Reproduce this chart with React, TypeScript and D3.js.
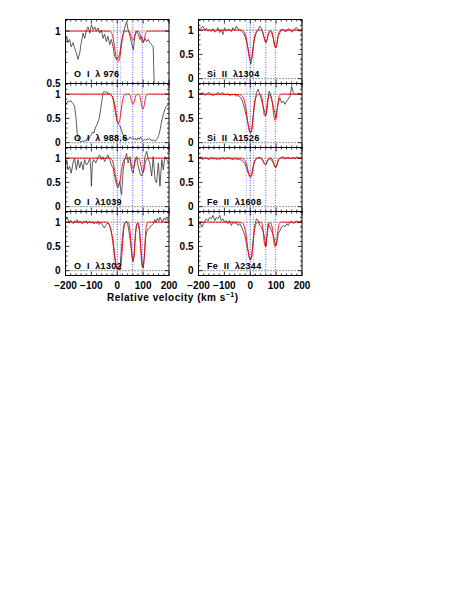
import React, { useRef, useEffect } from 'react';
import * as d3 from 'd3';

// velocity grid for the fitted profiles (km/s); the fit is 1 outside it
const modelV = [-40, -35, -30, -25, -20, -15, -10, -5, 0, 5, 10, 15, 20, 25, 30, 35, 40, 45, 50, 55,
  60, 65, 70, 75, 80, 85, 90, 95, 100, 105, 110, 115, 120, 125, 130];

// component velocities (dotted markers)
const compLight = [-15, 13];
const compDark = [0, 60, 97];

const xTickLabels = ['\u2212200', '\u2212100', '0', '100', '200'];
const xTickValues = [-200, -100, 0, 100, 200];

const labels = [
  'O  I  \u03bb 976', 'O  I  \u03bb 988.6', 'O  I  \u03bb1039', 'O  I  \u03bb1302',
  'Si  II  \u03bb1304', 'Si  II  \u03bb1526', 'Fe  II  \u03bb1608', 'Fe  II  \u03bb2344',
];

// observed normalised flux, [velocity, flux]
const oi976: [number, number][] = [
  [-200, 0.9], [-195, 0.95], [-191, 0.89], [-184, 0.92], [-178, 0.85], [-171, 0.89], [-165, 0.84],
  [-158, 0.79], [-152, 0.73], [-145, 0.79], [-139, 0.89], [-132, 0.98], [-126, 0.93], [-119, 1.01],
  [-113, 1.04], [-106, 0.98], [-100, 1.06], [-93, 1.01], [-87, 1.04], [-81, 1.0], [-74, 1.03],
  [-68, 0.98], [-61, 1.01], [-55, 0.93], [-49, 0.97], [-42, 0.9], [-36, 0.95], [-29, 0.87],
  [-23, 0.92], [-16, 0.85], [-10, 0.76], [-3, 0.73], [3, 0.74], [10, 0.79], [16, 0.89], [23, 0.98],
  [29, 1.03], [36, 1.09], [42, 1.01], [49, 0.95], [55, 0.89], [62, 0.82], [68, 0.95], [75, 1.0],
  [81, 0.97], [88, 0.92], [94, 0.95], [101, 0.89], [107, 0.93], [114, 0.9], [120, 0.92], [126, 0.89],
  [133, 0.87], [139, 0.85], [143, 0.47], [150, 0.3], [160, 0.25], [170, 0.3], [180, 0.22],
  [190, 0.28], [200, 0.25],
];
const oi988: [number, number][] = [
  [-200, 0.78], [-195, 0.82], [-190, 0.86], [-185, 0.84], [-180, 0.87], [-175, 0.83], [-170, 0.8],
  [-165, 0.75], [-160, 0.55], [-155, 0.2], [-150, 0.07], [-145, 0.03], [-140, 0.01], [-135, 0.04],
  [-130, 0.02], [-125, 0.05], [-120, 0.03], [-115, 0.1], [-110, 0.08], [-105, 0.13], [-100, 0.16],
  [-95, 0.22], [-90, 0.2], [-85, 0.3], [-80, 0.35], [-75, 0.42], [-70, 0.5], [-65, 0.65], [-60, 0.85],
  [-55, 1.02], [-50, 1.06], [-45, 1.03], [-40, 1.05], [-35, 1.0], [-30, 1.02], [-25, 0.98],
  [-20, 0.96], [-15, 0.9], [-10, 0.8], [-5, 0.62], [0, 0.45], [5, 0.38], [10, 0.35], [15, 0.28],
  [20, 0.2], [25, 0.12], [30, 0.07], [35, 0.1], [40, 0.05], [45, 0.08], [50, 0.12], [55, 0.08],
  [60, 0.1], [65, 0.06], [70, 0.09], [75, 0.05], [80, 0.1], [85, 0.07], [90, 0.12], [95, 0.06],
  [100, 0.04], [105, 0.07], [110, 0.05], [115, 0.08], [120, 0.06], [125, 0.09], [130, 0.05],
  [135, 0.04], [140, 0.06], [145, 0.03], [150, 0.05], [155, 0.08], [160, 0.15], [165, 0.25],
  [170, 0.4], [175, 0.52], [180, 0.62], [185, 0.7], [190, 0.75], [195, 0.78], [200, 0.82],
];
const oi1039: [number, number][] = [
  [-200, 0.83], [-195, 0.97], [-191, 0.76], [-184, 0.83], [-178, 0.69], [-171, 0.9], [-165, 1.0],
  [-158, 0.76], [-152, 0.97], [-145, 0.8], [-139, 0.93], [-132, 0.76], [-126, 0.97], [-119, 0.86],
  [-113, 0.9], [-106, 1.0], [-102, 0.76], [-100, 0.42], [-96, 0.9], [-91, 0.97], [-83, 0.9],
  [-74, 1.03], [-68, 1.07], [-61, 0.97], [-55, 1.03], [-49, 0.93], [-42, 1.0], [-36, 1.07],
  [-29, 0.97], [-23, 0.86], [-16, 0.8], [-10, 0.63], [-3, 0.46], [3, 0.39], [10, 0.52], [13, 0.35],
  [17, 0.25], [23, 0.76], [29, 0.97], [36, 1.1], [42, 0.9], [49, 1.03], [55, 0.76], [62, 0.69],
  [68, 0.97], [75, 1.03], [81, 0.83], [88, 0.69], [94, 0.63], [101, 0.73], [107, 1.03], [114, 1.14],
  [120, 0.97], [126, 0.9], [133, 0.63], [139, 1.03], [146, 0.56], [152, 0.49], [159, 0.9],
  [165, 0.42], [172, 0.97], [178, 0.76], [184, 1.03], [191, 0.97], [200, 0.9],
];
const oi1302: [number, number][] = [
  [-200, 1.03], [-195, 1.1], [-190, 1.05], [-185, 0.98], [-180, 1.04], [-175, 1.0], [-170, 0.97],
  [-165, 1.03], [-160, 1.0], [-155, 1.05], [-150, 0.98], [-145, 1.02], [-140, 1.0], [-135, 0.96],
  [-130, 1.02], [-125, 0.99], [-120, 1.03], [-115, 0.97], [-110, 1.0], [-105, 1.02], [-100, 0.98],
  [-95, 1.01], [-90, 0.96], [-85, 1.0], [-80, 0.97], [-75, 1.02], [-70, 0.95], [-65, 1.0],
  [-60, 0.97], [-55, 0.92], [-50, 0.88], [-45, 0.93], [-40, 0.97], [-35, 0.98], [-30, 0.93],
  [-25, 0.84], [-20, 0.72], [-15, 0.58], [-10, 0.33], [-5, 0.14], [0, 0.04], [5, 0.02], [10, 0.03],
  [15, 0.35], [20, 0.7], [25, 0.93], [30, 0.99], [35, 1.02], [40, 0.97], [45, 0.82], [50, 0.62],
  [55, 0.4], [60, 0.18], [65, 0.3], [70, 0.75], [75, 0.95], [80, 0.97], [85, 0.85], [90, 0.55],
  [95, 0.2], [100, 0.05], [105, 0.3], [110, 0.7], [115, 0.82], [120, 0.86], [125, 0.88], [130, 0.92],
  [135, 0.95], [140, 0.97], [145, 1.05], [150, 1.0], [155, 1.08], [160, 1.02], [165, 1.1],
  [170, 1.05], [175, 1.0], [180, 1.08], [185, 1.05], [190, 1.1], [195, 1.04], [200, 1.05],
];
const si1304: [number, number][] = [
  [-200, 1.01], [-190, 1.05], [-183, 1.08], [-176, 1.0], [-170, 1.04], [-163, 0.98], [-157, 1.01],
  [-150, 0.97], [-144, 1.03], [-137, 0.96], [-131, 0.98], [-125, 1.05], [-118, 0.95], [-112, 1.01],
  [-106, 0.91], [-99, 1.05], [-93, 0.98], [-86, 1.02], [-80, 1.01], [-73, 0.97], [-67, 1.05],
  [-60, 1.0], [-54, 1.08], [-47, 1.02], [-41, 1.01], [-34, 0.98], [-28, 0.95], [-21, 0.88],
  [-15, 0.78], [-8, 0.61], [-2, 0.41], [2, 0.3], [6, 0.41], [11, 0.64], [17, 0.84], [24, 0.95],
  [30, 1.01], [37, 1.08], [43, 1.04], [50, 0.91], [56, 0.81], [60, 0.74], [65, 0.81], [69, 0.91],
  [76, 0.98], [82, 0.95], [89, 0.84], [95, 0.68], [99, 0.64], [104, 0.74], [108, 0.88], [115, 0.95],
  [121, 1.02], [128, 1.01], [134, 0.97], [141, 0.98], [147, 1.03], [154, 1.01], [160, 0.96],
  [167, 0.98], [173, 1.04], [180, 1.05], [186, 0.99], [193, 0.98], [200, 1.01],
];
const si1526: [number, number][] = [
  [-200, 0.99], [-190, 1.02], [-183, 1.03], [-176, 0.98], [-170, 0.99], [-163, 1.03], [-157, 1.02],
  [-150, 0.99], [-144, 0.97], [-137, 1.0], [-131, 0.99], [-125, 1.04], [-118, 0.99], [-112, 1.02],
  [-106, 1.03], [-99, 1.0], [-93, 0.99], [-86, 1.01], [-80, 0.97], [-73, 0.99], [-67, 0.99],
  [-60, 1.0], [-54, 0.96], [-47, 0.97], [-41, 0.95], [-34, 0.9], [-28, 0.82], [-21, 0.68],
  [-15, 0.55], [-8, 0.38], [-2, 0.24], [2, 0.21], [6, 0.27], [11, 0.55], [17, 0.82], [24, 1.03],
  [30, 1.1], [37, 1.0], [43, 0.89], [50, 0.75], [56, 0.62], [60, 0.55], [65, 0.68], [69, 0.88],
  [73, 1.06], [76, 1.03], [82, 0.89], [89, 0.75], [95, 0.62], [99, 0.51], [104, 0.68], [108, 0.82],
  [115, 0.92], [121, 0.82], [128, 0.86], [134, 0.79], [141, 0.86], [147, 0.9], [154, 0.96],
  [160, 1.16], [167, 1.03], [173, 0.99], [180, 1.0], [186, 1.02], [193, 1.0], [200, 0.99],
];
const fe1608: [number, number][] = [
  [-200, 1.0], [-190, 1.03], [-183, 0.97], [-176, 1.01], [-170, 1.0], [-163, 0.98], [-157, 0.97],
  [-150, 1.02], [-144, 0.98], [-137, 1.0], [-131, 0.97], [-125, 0.99], [-118, 0.97], [-112, 1.0],
  [-106, 1.01], [-99, 0.98], [-93, 0.99], [-86, 1.01], [-80, 1.0], [-73, 0.98], [-67, 0.97],
  [-60, 0.99], [-54, 0.98], [-47, 0.98], [-41, 0.97], [-34, 0.96], [-28, 0.93], [-21, 0.9],
  [-15, 0.8], [-8, 0.69], [-2, 0.63], [2, 0.64], [6, 0.69], [11, 0.83], [17, 0.93], [24, 1.0],
  [30, 1.01], [37, 1.02], [43, 0.99], [50, 0.93], [56, 0.88], [60, 0.86], [65, 0.93], [69, 0.97],
  [76, 0.99], [82, 0.97], [89, 0.9], [95, 0.83], [99, 0.8], [104, 0.86], [108, 0.97], [115, 1.0],
  [121, 1.02], [128, 1.03], [134, 0.98], [141, 1.01], [147, 1.02], [154, 0.99], [160, 1.0],
  [167, 1.02], [173, 0.98], [180, 1.03], [186, 1.0], [193, 0.99], [200, 1.02],
];
const fe2344: [number, number][] = [
  [-200, 0.93], [-194, 1.0], [-187, 0.9], [-180, 0.97], [-170, 1.07], [-163, 1.03], [-157, 1.1],
  [-150, 1.07], [-144, 1.14], [-137, 1.03], [-131, 1.1], [-125, 1.07], [-118, 1.14], [-112, 1.03],
  [-106, 1.07], [-99, 1.0], [-93, 1.03], [-86, 0.97], [-80, 1.03], [-73, 0.93], [-67, 1.0],
  [-60, 0.97], [-54, 1.0], [-47, 0.93], [-41, 0.97], [-34, 0.9], [-28, 0.83], [-21, 0.73],
  [-15, 0.56], [-8, 0.39], [-4, 0.29], [0, 0.22], [6, 0.32], [11, 0.63], [17, 0.93], [24, 1.07],
  [30, 1.03], [37, 0.93], [43, 0.9], [50, 0.8], [56, 0.67], [60, 0.49], [65, 0.76], [69, 0.97],
  [76, 0.9], [82, 0.83], [89, 0.73], [95, 0.59], [99, 0.52], [104, 0.62], [108, 0.76], [115, 0.83],
  [121, 0.9], [128, 0.93], [134, 0.9], [141, 0.97], [147, 0.93], [154, 1.0], [160, 1.02],
  [167, 0.97], [173, 1.0], [180, 1.03], [186, 0.98], [193, 1.02], [200, 1.03],
];

// fitted profiles on modelV
const fit976 = [1, 1, 1, 0.99, 0.97, 0.92, 0.84, 0.76, 0.72, 0.71, 0.75, 0.84, 0.93, 0.98, 1, 1, 1, 1,
  0.98, 0.94, 0.91, 0.93, 0.98, 1, 1, 0.99, 0.95, 0.9, 0.89, 0.93, 0.98, 1, 1, 1, 1];
const fit988 = [1, 1, 1, 0.99, 0.96, 0.87, 0.72, 0.55, 0.43, 0.4, 0.48, 0.66, 0.85, 0.96, 0.99, 1, 1, 1,
  0.97, 0.87, 0.79, 0.83, 0.94, 0.99, 1, 0.98, 0.9, 0.74, 0.69, 0.8, 0.94, 0.99, 1, 1, 1];
const fit1039 = [1, 1, 1, 0.99, 0.96, 0.88, 0.74, 0.58, 0.47, 0.45, 0.52, 0.68, 0.86, 0.96, 0.99, 1, 1, 1,
  0.97, 0.87, 0.79, 0.83, 0.94, 0.99, 1, 0.98, 0.9, 0.75, 0.7, 0.81, 0.94, 0.99, 1, 1, 1];
const fit1302 = [1, 0.99, 0.95, 0.86, 0.7, 0.5, 0.28, 0.1, 0.03, 0.02, 0.03, 0.15, 0.5, 0.85, 0.97, 1, 1,
  0.97, 0.8, 0.45, 0.2, 0.3, 0.7, 0.95, 0.99, 0.9, 0.55, 0.12, 0.06, 0.35, 0.8, 0.97, 1, 1, 1];
const fitSi1304 = [1, 1, 0.99, 0.97, 0.92, 0.82, 0.66, 0.48, 0.38, 0.42, 0.6, 0.8, 0.93, 0.98, 1, 1, 1,
  0.99, 0.94, 0.82, 0.75, 0.8, 0.92, 0.98, 0.99, 0.95, 0.8, 0.65, 0.64, 0.8, 0.94, 0.99, 1, 1, 1];
const fitSi1526 = [0.99, 0.98, 0.95, 0.9, 0.8, 0.64, 0.44, 0.27, 0.2, 0.24, 0.45, 0.72, 0.9, 0.97, 0.99, 1,
  0.99, 0.93, 0.72, 0.56, 0.58, 0.78, 0.94, 0.98, 0.96, 0.85, 0.6, 0.46, 0.5, 0.72, 0.92, 0.98, 1, 1, 1];
const fitFe1608 = [1, 1, 0.99, 0.98, 0.95, 0.89, 0.78, 0.66, 0.6, 0.63, 0.76, 0.9, 0.97, 0.99, 1, 1, 1,
  0.99, 0.95, 0.88, 0.87, 0.92, 0.98, 1, 1, 0.98, 0.91, 0.82, 0.82, 0.9, 0.97, 1, 1, 1, 1];
const fitFe2344 = [1, 0.99, 0.98, 0.94, 0.85, 0.7, 0.48, 0.3, 0.22, 0.26, 0.5, 0.78, 0.93, 0.98, 1, 1, 1,
  0.97, 0.82, 0.55, 0.5, 0.7, 0.92, 0.99, 0.98, 0.88, 0.65, 0.5, 0.52, 0.75, 0.93, 0.99, 1, 1, 1];

const spectra = [oi976, oi988, oi1039, oi1302, si1304, si1526, fe1608, fe2344];
const fits = [fit976, fit988, fit1039, fit1302, fitSi1304, fitSi1526, fitFe1608, fitFe2344];

const FONT = '"Liberation Sans", Arial, Helvetica, sans-serif';

const App = () => {
  const svgRef = useRef<SVGSVGElement>(null);

  useEffect(() => {
    const svg = d3.select(svgRef.current);
    svg.selectAll('*').remove();

    const colLeft = [65.5, 198.5];
    const pw = 103.5;
    const ph = 64;
    const top = 19.5;

    const g = svg.append('g');

    spectra.forEach((spec, i) => {
      const col = i < 4 ? 0 : 1;
      const row = i % 4;
      const x0 = colLeft[col];
      const y0 = top + row * ph;
      const first = i === 0;

      const x = d3.scaleLinear().domain([-200, 200]).range([x0, x0 + pw]);
      const y = d3.scaleLinear()
        .domain(first ? [0.5, 1.11] : [-0.1, 1.22])
        .range([y0 + ph, y0]);

      const clipId = `clip${i}`;
      svg.append('clipPath').attr('id', clipId)
        .append('rect').attr('x', x0).attr('y', y0).attr('width', pw).attr('height', ph);

      const p = g.append('g').attr('clip-path', `url(#${clipId})`);

      // reference levels
      const levels = first ? [1] : [0, 1];
      levels.forEach(lv => {
        p.append('line')
          .attr('x1', x0).attr('x2', x0 + pw)
          .attr('y1', y(lv)).attr('y2', y(lv))
          .attr('stroke', '#000').attr('stroke-width', 0.8)
          .attr('stroke-dasharray', '1,2');
      });

      // component markers
      compLight.forEach(v => {
        p.append('line')
          .attr('x1', x(v)).attr('x2', x(v)).attr('y1', y0).attr('y2', y0 + ph)
          .attr('stroke', '#8c8cff').attr('stroke-width', 0.9)
          .attr('stroke-dasharray', '1,1.5');
      });
      compDark.forEach(v => {
        p.append('line')
          .attr('x1', x(v)).attr('x2', x(v)).attr('y1', y0).attr('y2', y0 + ph)
          .attr('stroke', v === 0 ? '#2020e0' : '#4a4aff').attr('stroke-width', 0.9)
          .attr('stroke-dasharray', '1,1.5');
      });

      // observed spectrum
      const line = d3.line<[number, number]>()
        .x(d => x(d[0]))
        .y(d => y(d[1]));
      p.append('path')
        .datum(spec)
        .attr('fill', 'none')
        .attr('stroke', '#333')
        .attr('stroke-width', 0.8)
        .attr('d', line);

      // fitted model
      const fitPts: [number, number][] = [[-200, 1], ...modelV.map((v, k) => [v, fits[i][k]] as [number, number]), [200, 1]];
      p.append('path')
        .datum(fitPts)
        .attr('fill', 'none')
        .attr('stroke', '#f00')
        .attr('stroke-width', 0.9)
        .attr('d', d3.line<[number, number]>().x(d => x(d[0])).y(d => y(d[1])).curve(d3.curveMonotoneX));

      // frame
      g.append('rect')
        .attr('x', x0).attr('y', y0).attr('width', pw).attr('height', ph)
        .attr('fill', 'none').attr('stroke', '#000').attr('stroke-width', 1);

      // x ticks, top and bottom, inward
      d3.range(-200, 201, 20).forEach(v => {
        const len = v % 100 === 0 ? 4 : 2;
        g.append('line').attr('x1', x(v)).attr('x2', x(v))
          .attr('y1', y0 + ph).attr('y2', y0 + ph - len).attr('stroke', '#000').attr('stroke-width', 0.8);
        g.append('line').attr('x1', x(v)).attr('x2', x(v))
          .attr('y1', y0).attr('y2', y0 + len).attr('stroke', '#000').attr('stroke-width', 0.8);
      });

      // y ticks, left and right, inward
      const yt = first ? d3.range(5, 12).map(k => k / 10) : d3.range(-1, 13).map(k => k / 10);
      yt.forEach(v => {
        const major = Math.abs((v * 10) % 5) < 1e-6;
        const len = major ? 4 : 2;
        g.append('line').attr('x1', x0).attr('x2', x0 + len)
          .attr('y1', y(v)).attr('y2', y(v)).attr('stroke', '#000').attr('stroke-width', 0.8);
        g.append('line').attr('x1', x0 + pw).attr('x2', x0 + pw - len)
          .attr('y1', y(v)).attr('y2', y(v)).attr('stroke', '#000').attr('stroke-width', 0.8);
      });

      // y tick labels
      const yl = first ? [0.5, 1] : [0, 0.5, 1];
      yl.forEach(v => {
        g.append('text')
          .attr('x', x0 - 5).attr('y', y(v)).attr('dy', '0.35em')
          .attr('text-anchor', 'end')
          .style('font-family', FONT).style('font-size', '10px').style('font-weight', 'bold')
          .text(v === 0.5 ? '0.5' : String(v));
      });

      // transition label
      g.append('text')
        .attr('x', x0 + 8.5).attr('y', y0 + ph - 7)
        .attr('xml:space', 'preserve')
        .style('white-space', 'pre')
        .style('font-family', FONT).style('font-size', '9px').style('font-weight', 'bold')
        .style('letter-spacing', '0.3px')
        .text(labels[i]);

      // x tick labels under the bottom panels
      if (row === 3) {
        xTickValues.forEach((v, k) => {
          g.append('text')
            .attr('x', x(v)).attr('y', y0 + ph + 13)
            .attr('text-anchor', 'middle')
            .style('font-family', FONT).style('font-size', '10px').style('font-weight', 'bold')
            .text(xTickLabels[k]);
        });
      }
    });

    // axis title
    const title = g.append('text')
      .attr('x', 107).attr('y', 301)
      .style('font-family', FONT).style('font-size', '10px').style('font-weight', 'bold')
      .style('letter-spacing', '0.5px');
    title.append('tspan').text('Relative velocity (km s');
    title.append('tspan').attr('dy', -4).style('font-size', '7px').text('\u22121');
    title.append('tspan').attr('dy', 4).text(')');
  }, []);

  return (
    <svg ref={svgRef} width={474} height={614}
      style={{ position: 'absolute', left: 0, top: 0, background: '#fff' }} />
  );
};

export default App;
